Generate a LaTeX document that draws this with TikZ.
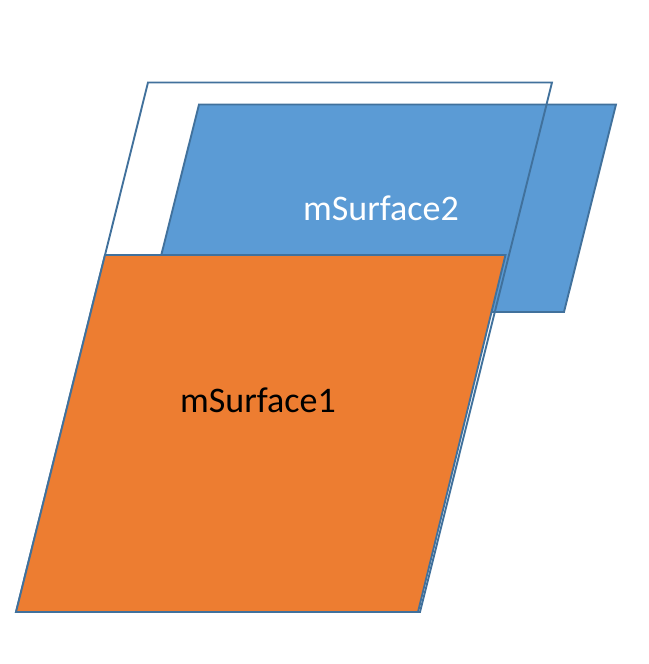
\documentclass[tikz,border=0pt]{standalone}
\usepackage{fontspec}
\setmainfont{Carlito}
\definecolor{edgeblue}{HTML}{41719C}
\definecolor{surforange}{HTML}{ED7D31}
\definecolor{surfblue}{HTML}{5B9BD5}

\begin{document}
\begin{tikzpicture}[x=1pt,y=-1pt,
  surf/.style={draw=edgeblue,line width=1.9pt,line join=miter},
  lbl/.style={font=\fontsize{36}{43}\selectfont,inner sep=0pt,anchor=base}]
  \useasboundingbox (0,0) rectangle (648,664);
  \path (148,82.5) coordinate (w0) (552,82.5) coordinate (w1)
  (420,612) coordinate (w2) (16,612) coordinate (w3);
  \path (199,104.5) coordinate (b0) (616,104.5) coordinate (b1)
  (564,312) coordinate (b2) (147,312) coordinate (b3);
  \path (105,255) coordinate (o0) (505.5,255) coordinate (o1)
  (418,612) coordinate (o2) (16,612) coordinate (o3);
  \filldraw[surf,fill=surfblue] (b0) -- (b1) -- (b2) -- (b3) -- cycle;
  \draw[surf] (w0) -- (w1) -- (w2) -- (w3) -- cycle;
  \filldraw[surf,fill=surforange] (o0) -- (o1) -- (o2) -- (o3) -- cycle;
  \node[lbl,text=white] (s2) at (381,220) {mSurface2};
  \node[lbl] (s1) at (258,412) {mSurface1};
\end{tikzpicture}
\end{document}
